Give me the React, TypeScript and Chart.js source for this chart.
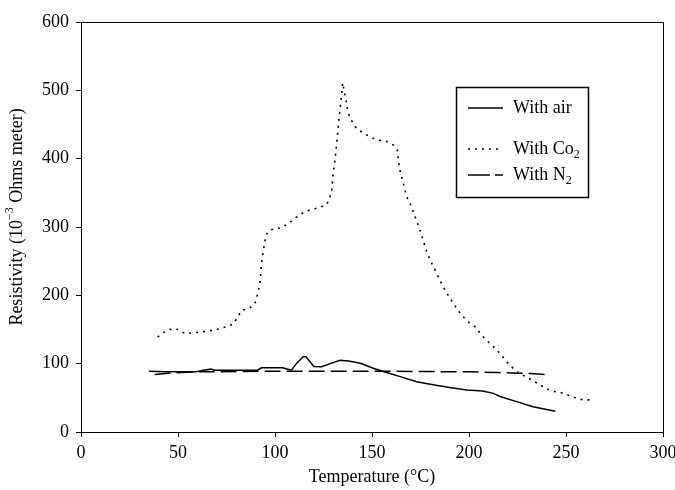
import React, { useEffect, useRef } from "react";
import { Chart, registerables } from "chart.js";

Chart.register(...registerables);

const FONT = "'Liberation Serif', 'Times New Roman', serif";

// Temperature (°C) / resistivity (10^-3 Ohm·m)
const airTemp = [35, 44, 47, 59, 63, 67, 69, 91, 93, 104, 108.5, 111, 114.5, 116, 120, 124, 128.5, 133.5, 138, 144, 151, 157.5, 164.5, 173, 181.5, 190, 199, 207, 212.5, 216, 224.5, 233, 240, 244.5];
const airRes = [89, 88, 88, 88, 90.5, 92, 90.5, 90.5, 94, 94, 90.5, 100, 110, 110, 96, 95.5, 100, 105, 104, 100.5, 93, 87, 81, 73.5, 69, 65, 61.5, 60, 56.5, 52, 44.5, 37, 33, 30.5];

const co2Temp = [39.5, 43.3, 47, 50.2, 53.6, 57.5, 60.5, 64.4, 67.9, 71.6, 74.7, 78.5, 80.7, 82.8, 86.8, 89.5, 90.5, 91.4, 92.3, 92.8, 93.1, 93.9, 94.7, 95.4, 96.9, 99.5, 103.3, 106.9, 110.3, 114.6, 118, 122.3, 126.3, 128, 129.2, 130, 130.9, 131.8, 132.6, 133.5, 134.4, 134.9, 135.6, 136.6, 137.3, 138.7, 142.1, 146.4, 150.7, 154.1, 157.6, 161, 163, 163.6, 164.4, 166.1, 167.9, 169.6, 172.2, 174.7, 176.5, 178.2, 179.9, 182.5, 185, 187.6, 190.2, 193.6, 196.2, 199.6, 203.1, 206.5, 209.1, 212.5, 216, 219.4, 222.8, 226.3, 230, 233.5, 236.6, 240.9, 244.3, 248.6, 252, 255.5, 259, 263];
const co2Res = [139, 147, 151, 150, 144, 145, 146, 147, 149, 151, 154, 158, 168, 178, 181, 187, 196, 207, 218, 237, 248, 263, 278, 288, 295, 297, 299, 305, 313, 321, 325, 328, 332, 340, 354, 379, 398, 422, 447, 471, 496, 511, 500, 486, 471, 459, 444, 436, 430, 427, 425, 420, 413, 398, 383, 364, 344, 335, 315, 296, 279, 264, 252, 237, 222, 208, 196, 181, 171, 161, 154, 142, 134, 125, 115, 103, 93, 85, 80, 74, 69, 62, 59, 57, 53, 49, 47, 47];

const n2Temp = [38, 45, 60, 100, 150, 200, 215, 225, 232, 240];
const n2Res = [84, 86, 88, 89, 89, 88, 87, 86, 85.5, 84];

const xTicks = [0, 50, 100, 150, 200, 250, 300];
const yTicks = [0, 100, 200, 300, 400, 500, 600];

const toPoints = (xs: number[], ys: number[]) => xs.map((x, i) => ({ x, y: ys[i] }));

const DOT = [2, 5];
const DASH = [16, 6];

const decorPlugin = {
  id: "decor",
  afterDraw(chart: any) {
    const ctx = chart.ctx;
    const a = chart.chartArea;
    ctx.save();
    // plot frame
    ctx.strokeStyle = "#000";
    ctx.lineWidth = 1;
    ctx.setLineDash([]);
    ctx.strokeRect(Math.round(a.left) + 0.5, Math.round(a.top) + 0.5, Math.round(a.right - a.left), Math.round(a.bottom - a.top));

    // y-axis title with superscript
    const cx = 17;
    const cy = (a.top + a.bottom) / 2 - 10;
    const big = `18px ${FONT}`;
    const small = `12px ${FONT}`;
    const parts = [
      { t: "Resistivity (10", f: big, dy: 0 },
      { t: "\u22123", f: small, dy: -7 },
      { t: " Ohms meter)", f: big, dy: 0 },
    ];
    let total = 0;
    parts.forEach((p) => { ctx.font = p.f; total += ctx.measureText(p.t).width; });
    ctx.translate(cx, cy);
    ctx.rotate(-Math.PI / 2);
    ctx.fillStyle = "#000";
    ctx.textBaseline = "middle";
    ctx.textAlign = "left";
    let x = -total / 2;
    parts.forEach((p) => {
      ctx.font = p.f;
      ctx.fillText(p.t, x, p.dy);
      x += ctx.measureText(p.t).width;
    });
    ctx.restore();

    // legend box
    ctx.save();
    const lx = a.left + 375;
    const ly = a.top + 65;
    const lw = 132;
    const lh = 110;
    ctx.strokeStyle = "#000";
    ctx.lineWidth = 1.5;
    ctx.strokeRect(Math.round(lx) + 0.5, Math.round(ly) + 0.5, lw, lh);
    const rows = [
      { y: ly + 21, dash: [] as number[], main: "With air", sub: "" },
      { y: ly + 62, dash: DOT, main: "With Co", sub: "2" },
      { y: ly + 88, dash: [22, 5], main: "With N", sub: "2" },
    ];
    rows.forEach((r) => {
      ctx.beginPath();
      ctx.setLineDash(r.dash);
      ctx.lineWidth = 1.5;
      ctx.moveTo(lx + 12, r.y);
      ctx.lineTo(lx + 47, r.y);
      ctx.stroke();
      ctx.setLineDash([]);
      ctx.fillStyle = "#000";
      ctx.textBaseline = "middle";
      ctx.textAlign = "left";
      ctx.font = big;
      ctx.fillText(r.main, lx + 57, r.y);
      if (r.sub) {
        const w = ctx.measureText(r.main).width;
        ctx.font = small;
        ctx.fillText(r.sub, lx + 57 + w, r.y + 6);
      }
    });
    ctx.restore();
  },
};

export default function App() {
  const ref = useRef<HTMLCanvasElement | null>(null);

  useEffect(() => {
    if (!ref.current) return;
    Chart.defaults.font.family = FONT;
    const tickFont = { family: FONT, size: 18 };
    const chart = new Chart(ref.current, {
      type: "line",
      data: {
        datasets: [
          {
            label: "With air",
            data: toPoints(airTemp, airRes),
            borderColor: "#000",
            borderWidth: 1.5,
            pointRadius: 0,
            tension: 0,
          },
          {
            label: "With Co2",
            data: toPoints(co2Temp, co2Res),
            borderColor: "#000",
            borderWidth: 1.6,
            borderDash: DOT,
            pointRadius: 0,
            tension: 0,
          },
          {
            label: "With N2",
            data: toPoints(n2Temp, n2Res),
            borderColor: "#000",
            borderWidth: 1.5,
            borderDash: DASH,
            pointRadius: 0,
            tension: 0,
          },
        ],
      },
      options: {
        responsive: false,
        animation: false,
        layout: { padding: { top: 22, right: 12, left: 0, bottom: 0 } },
        plugins: { legend: { display: false }, tooltip: { enabled: false } },
        scales: {
          x: {
            type: "linear",
            min: 0,
            max: 300,
            afterBuildTicks: (s: any) => { s.ticks = xTicks.map((v) => ({ value: v })); },
            afterFit: (s: any) => { s.height = 58; s.paddingRight = 0; s.paddingLeft = 0; },
            ticks: { font: tickFont, color: "#000", padding: 5, maxRotation: 0 },
            grid: { display: true, drawOnChartArea: false, drawTicks: true, tickLength: 5, color: "#000" },
            border: { display: true, color: "#000", width: 1 },
            title: { display: true, text: "Temperature (°C)", font: tickFont, color: "#000", padding: { top: 0, bottom: 2 } },
          },
          y: {
            type: "linear",
            min: 0,
            max: 600,
            afterBuildTicks: (s: any) => { s.ticks = yTicks.map((v) => ({ value: v })); },
            afterFit: (s: any) => { s.width = 81; s.paddingTop = 0; s.paddingBottom = 0; },
            ticks: { font: tickFont, color: "#000", padding: 7 },
            grid: { display: true, drawOnChartArea: false, drawTicks: true, tickLength: 5, color: "#000" },
            border: { display: true, color: "#000", width: 1 },
          },
        },
      },
      plugins: [decorPlugin],
    } as any);
    return () => chart.destroy();
  }, []);

  return (
    <div style={{ position: "absolute", left: 0, top: 0, width: 675, height: 490, background: "#fff" }}>
      <canvas ref={ref} width={675} height={490} style={{ display: "block" }} />
    </div>
  );
}
